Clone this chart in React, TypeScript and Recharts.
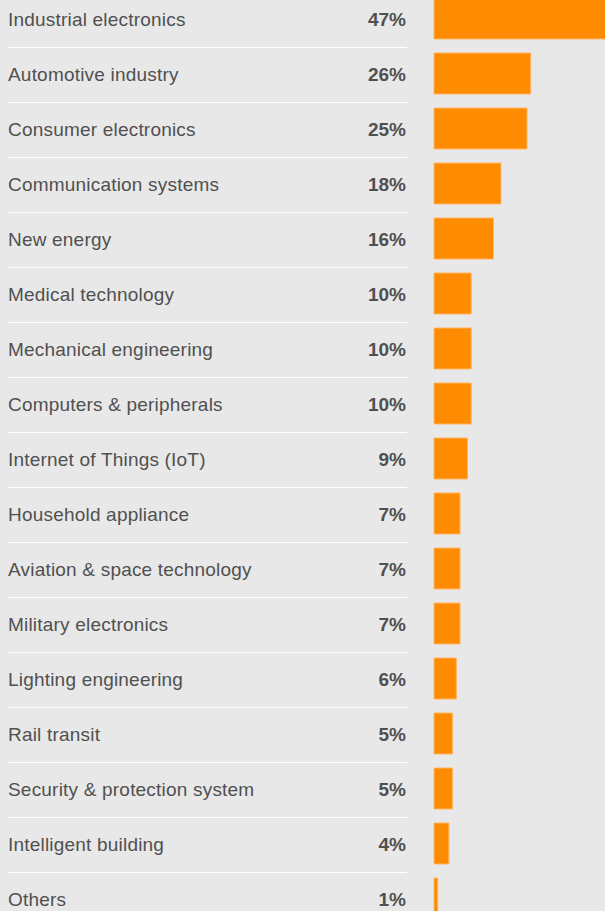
import { BarChart, Bar, XAxis, YAxis } from "recharts";

const categories = [
  "Industrial electronics",
  "Automotive industry",
  "Consumer electronics",
  "Communication systems",
  "New energy",
  "Medical technology",
  "Mechanical engineering",
  "Computers & peripherals",
  "Internet of Things (IoT)",
  "Household appliance",
  "Aviation & space technology",
  "Military electronics",
  "Lighting engineering",
  "Rail transit",
  "Security & protection system",
  "Intelligent building",
  "Others",
];

const shares = [47, 26, 25, 18, 16, 10, 10, 10, 9, 7, 7, 7, 6, 5, 5, 4, 1];

const data = categories.map((name, i) => ({ name, value: shares[i] }));

const FONT = '"Liberation Sans", Arial, Helvetica, sans-serif';
const INK = "#505050";

function RowTick(props: any) {
  const { y, payload } = props;
  const idx = categories.indexOf(payload.value);
  return (
    <g>
      <text
        x={8}
        y={y + 7}
        textAnchor="start"
        fontFamily={FONT}
        fontSize={19}
        letterSpacing={0.2}
        fill={INK}
      >
        {payload.value}
      </text>
      <text
        x={406}
        y={y + 7}
        textAnchor="end"
        fontFamily={FONT}
        fontSize={19}
        fontWeight="bold"
        fill={INK}
      >
        {shares[idx]}%
      </text>
      <line x1={8} x2={407} y1={y + 29} y2={y + 29} stroke="#ffffff" strokeWidth={1} />
    </g>
  );
}

export default function App() {
  return (
    <div
      style={{
        position: "absolute",
        left: 0,
        top: 0,
        width: 605,
        height: 911,
        overflow: "hidden",
        background: "#e8e8e8",
      }}
    >
      <div style={{ position: "absolute", left: 0, top: -9 }}>
        <BarChart
          width={620}
          height={935}
          data={data}
          layout="vertical"
          margin={{ top: 0, right: 0, left: 0, bottom: 0 }}
          barCategoryGap={14}
        >
          <XAxis type="number" domain={[0, 50]} hide />
          <YAxis
            type="category"
            dataKey="name"
            width={434}
            axisLine={false}
            tickLine={false}
            tick={<RowTick />}
            interval={0}
          />
          <Bar
            dataKey="value"
            fill="#ff8c00"
            stroke="#ffb467"
            strokeWidth={1}
            barSize={41}
            isAnimationActive={false}
          />
        </BarChart>
      </div>
    </div>
  );
}
